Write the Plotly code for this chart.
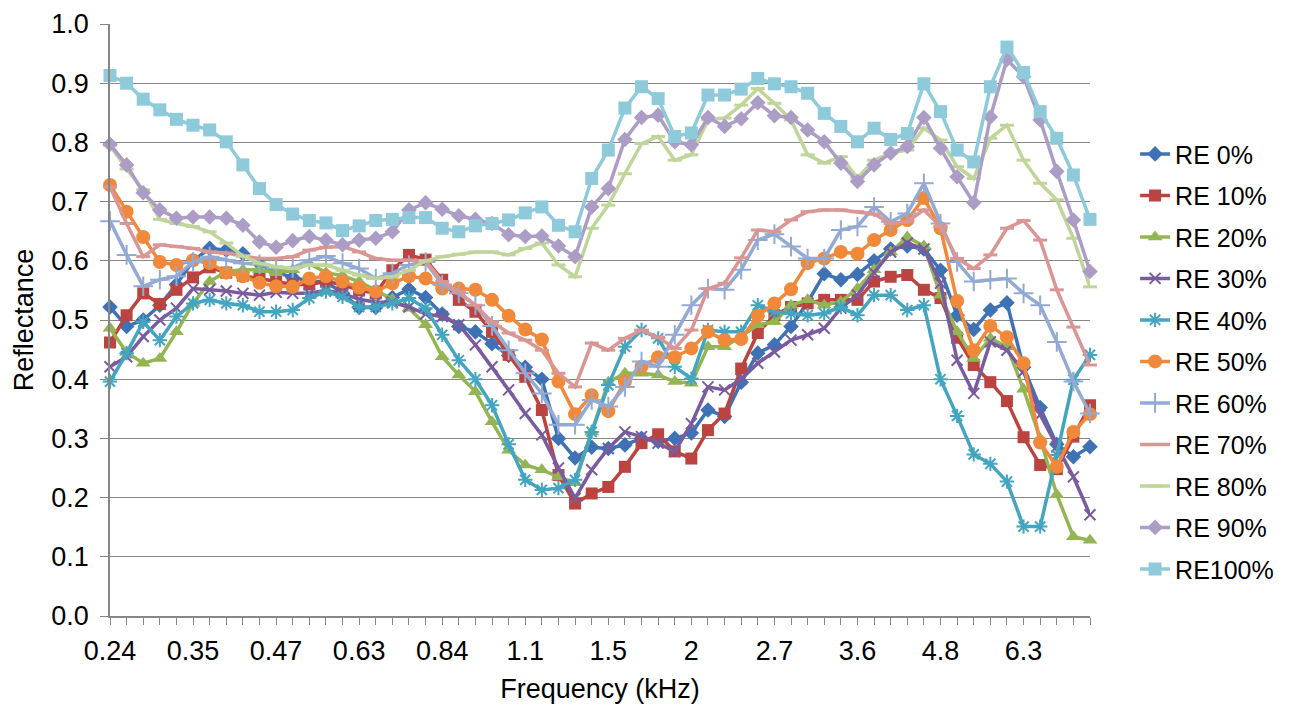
import plotly.graph_objects as go

freq_khz = ["0.24","0.28","0.30","0.31","0.33","0.35","0.37","0.39","0.42","0.44",
            "0.47","0.50","0.53","0.56","0.59","0.63","0.66","0.70","0.74","0.79",
            "0.84","0.88","0.94","0.99","1.05","1.1","1.18","1.25","1.32","1.40",
            "1.5","1.57","1.67","1.77","1.87","2","2.10","2.23","2.36","2.50",
            "2.7","2.81","2.97","3.15","3.34","3.6","3.74","3.97","4.20","4.45",
            "4.8","5.00","5.29","5.61","5.94","6.3","6.67","7.07","7.49","7.93"]
label_every = 5

re_0 = [0.522,0.489,0.500,0.525,0.560,0.600,0.621,0.618,0.612,0.595,
        0.580,0.572,0.565,0.565,0.545,0.521,0.521,0.538,0.552,0.538,
        0.510,0.489,0.480,0.460,0.440,0.420,0.400,0.300,0.267,0.285,
        0.283,0.289,0.300,0.295,0.300,0.309,0.348,0.337,0.395,0.444,
        0.458,0.489,0.530,0.578,0.568,0.577,0.600,0.620,0.625,0.620,
        0.584,0.508,0.484,0.517,0.529,0.420,0.352,0.290,0.269,0.286]
re_10 = [0.462,0.508,0.545,0.527,0.551,0.572,0.589,0.580,0.575,0.570,
         0.565,0.560,0.560,0.565,0.560,0.550,0.545,0.584,0.610,0.602,
         0.568,0.534,0.514,0.480,0.441,0.404,0.348,0.238,0.190,0.207,
         0.218,0.252,0.292,0.307,0.278,0.266,0.314,0.342,0.418,0.478,
         0.508,0.522,0.528,0.534,0.534,0.534,0.565,0.573,0.576,0.551,
         0.537,0.470,0.424,0.395,0.363,0.302,0.255,0.248,0.303,0.356]
re_20 = [0.486,0.445,0.427,0.435,0.480,0.528,0.565,0.582,0.585,0.585,
         0.580,0.585,0.595,0.580,0.575,0.565,0.550,0.535,0.520,0.492,
         0.438,0.407,0.379,0.328,0.280,0.255,0.247,0.235,0.225,0.311,
         0.395,0.410,0.410,0.407,0.396,0.393,0.455,0.455,0.472,0.492,
         0.497,0.525,0.534,0.525,0.531,0.553,0.585,0.615,0.640,0.625,
         0.542,0.480,0.435,0.469,0.455,0.383,0.300,0.205,0.134,0.128]
re_30 = [0.421,0.438,0.472,0.500,0.520,0.553,0.551,0.549,0.545,0.542,
         0.547,0.545,0.545,0.550,0.545,0.535,0.530,0.530,0.522,0.510,
         0.506,0.492,0.458,0.421,0.382,0.342,0.306,0.250,0.199,0.247,
         0.283,0.311,0.303,0.292,0.278,0.325,0.387,0.382,0.400,0.427,
         0.446,0.466,0.475,0.486,0.520,0.542,0.580,0.615,0.630,0.620,
         0.562,0.432,0.376,0.463,0.449,0.413,0.340,0.286,0.235,0.171]
re_40 = [0.396,0.444,0.497,0.466,0.506,0.528,0.534,0.528,0.525,0.514,
         0.514,0.517,0.537,0.548,0.539,0.522,0.522,0.528,0.537,0.520,
         0.475,0.432,0.400,0.356,0.290,0.230,0.213,0.216,0.230,0.311,
         0.390,0.455,0.483,0.469,0.421,0.401,0.483,0.480,0.480,0.525,
         0.514,0.511,0.508,0.511,0.522,0.508,0.542,0.542,0.517,0.525,
         0.400,0.338,0.273,0.257,0.227,0.151,0.151,0.272,0.399,0.441]
re_50 = [0.728,0.683,0.640,0.598,0.593,0.601,0.596,0.580,0.574,0.563,
         0.557,0.556,0.570,0.574,0.565,0.555,0.548,0.562,0.574,0.570,
         0.553,0.553,0.551,0.534,0.507,0.484,0.467,0.396,0.341,0.373,
         0.346,0.396,0.421,0.437,0.437,0.452,0.480,0.466,0.468,0.507,
         0.528,0.552,0.596,0.604,0.615,0.612,0.635,0.652,0.669,0.706,
         0.655,0.532,0.449,0.490,0.471,0.427,0.293,0.252,0.311,0.341]
re_60 = [0.667,0.610,0.557,0.568,0.574,0.598,0.607,0.601,0.596,0.594,
         0.587,0.588,0.601,0.608,0.596,0.587,0.570,0.579,0.593,0.598,
         0.560,0.545,0.525,0.490,0.449,0.410,0.376,0.323,0.323,0.365,
         0.354,0.387,0.430,0.421,0.475,0.525,0.553,0.551,0.585,0.635,
         0.645,0.624,0.604,0.604,0.652,0.658,0.691,0.666,0.680,0.731,
         0.663,0.598,0.565,0.568,0.570,0.545,0.525,0.463,0.396,0.342]
re_70 = [0.725,0.663,0.607,0.627,0.624,0.621,0.615,0.613,0.608,0.604,
         0.604,0.607,0.618,0.623,0.624,0.615,0.604,0.601,0.601,0.600,
         0.565,0.548,0.525,0.497,0.478,0.466,0.449,0.410,0.387,0.461,
         0.449,0.469,0.483,0.471,0.452,0.483,0.553,0.562,0.605,0.652,
         0.649,0.669,0.683,0.686,0.686,0.683,0.679,0.663,0.666,0.686,
         0.658,0.604,0.587,0.610,0.655,0.668,0.635,0.551,0.488,0.424]
re_80 = [0.795,0.755,0.720,0.670,0.663,0.658,0.649,0.630,0.608,0.596,
         0.590,0.587,0.593,0.593,0.584,0.576,0.570,0.573,0.584,0.600,
         0.607,0.611,0.615,0.615,0.610,0.621,0.630,0.593,0.573,0.655,
         0.694,0.747,0.798,0.810,0.770,0.779,0.838,0.841,0.863,0.891,
         0.866,0.838,0.779,0.765,0.776,0.740,0.770,0.782,0.787,0.824,
         0.804,0.759,0.739,0.807,0.829,0.770,0.731,0.703,0.638,0.556]
re_90 = [0.797,0.762,0.715,0.686,0.672,0.674,0.674,0.672,0.660,0.632,
         0.623,0.634,0.641,0.635,0.627,0.635,0.638,0.649,0.686,0.698,
         0.687,0.676,0.670,0.663,0.644,0.641,0.642,0.625,0.607,0.691,
         0.722,0.805,0.842,0.846,0.801,0.796,0.842,0.827,0.840,0.867,
         0.845,0.842,0.821,0.801,0.765,0.734,0.762,0.782,0.793,0.842,
         0.790,0.742,0.698,0.843,0.940,0.911,0.838,0.751,0.669,0.582]
re_100 = [0.913,0.900,0.873,0.855,0.839,0.829,0.821,0.801,0.762,0.722,
          0.695,0.679,0.668,0.664,0.651,0.659,0.668,0.670,0.673,0.673,
          0.655,0.649,0.659,0.663,0.669,0.681,0.691,0.660,0.649,0.739,
          0.787,0.858,0.894,0.874,0.810,0.816,0.880,0.880,0.890,0.908,
          0.899,0.894,0.883,0.849,0.827,0.801,0.824,0.805,0.815,0.899,
          0.852,0.787,0.767,0.894,0.961,0.918,0.852,0.807,0.745,0.670]

series_names = ["RE 0%", "RE 10%", "RE 20%", "RE 30%", "RE 40%", "RE 50%",
                "RE 60%", "RE 70%", "RE 80%", "RE 90%", "RE100%"]
series_values = [re_0, re_10, re_20, re_30, re_40, re_50,
                 re_60, re_70, re_80, re_90, re_100]

colors = ["#3F72B5", "#BB4340", "#94B553", "#7A5C9E", "#44A5C0", "#F0893A",
          "#92AAD4", "#D99694", "#C0D59A", "#AC9DC6", "#8FCADB"]
# (symbol, size, outline width) ; outline width > 0 for line-type symbols
markers = [("diamond", 12, 0), ("square", 12, 0), ("triangle-up", 13, 0),
           ("x-thin", 11, 2), ("asterisk", 12, 2), ("circle", 14, 0),
           ("cross-thin", 14, 2), ("line-ew", 10, 3), ("line-ew", 10, 3),
           ("diamond", 12, 0), ("square", 13, 0)]

x_pos = list(range(len(freq_khz)))
tick_text = [lab if i % label_every == 0 else "" for i, lab in enumerate(freq_khz)]

FONT = "Arial, Liberation Sans, sans-serif"
GRID = "#878787"

fig = go.Figure()
for name, vals, col, (sym, size, lw) in zip(series_names, series_values, colors, markers):
    fig.add_trace(go.Scatter(
        x=x_pos, y=vals, name=name, mode="lines+markers",
        legendgroup=name,
        line=dict(color=col, width=3.5),
        marker=dict(symbol=sym, size=size, color=col,
                    line=dict(color=col, width=lw)),
        cliponaxis=False,
    ))

fig.update_layout(
    width=1294, height=698,
    paper_bgcolor="white", plot_bgcolor="white",
    margin=dict(l=102, r=212, t=16, b=90),
    font=dict(family=FONT, size=25, color="#000000"),
    showlegend=True,
    legend=dict(x=1.046, y=0.819, xanchor="left", yanchor="top",
                font=dict(size=25, family=FONT), tracegroupgap=6,
                bgcolor="rgba(0,0,0,0)", traceorder="grouped"),
    xaxis=dict(
        range=[0, len(freq_khz) - 1], automargin=False,
        tickmode="array", tickvals=x_pos, ticktext=tick_text,
        ticks="outside", ticklen=7, tickcolor=GRID, tickwidth=1,
        ticklabelstandoff=3,
        showline=True, linecolor=GRID, linewidth=1.5,
        showgrid=False, zeroline=False,
        tickfont=dict(size=27, family=FONT, color="#000"),
        title=dict(text="Frequency (kHz)", font=dict(size=27, family=FONT), standoff=14),
    ),
    yaxis=dict(
        range=[0, 1.0], dtick=0.1, tick0=0, tickformat=".1f", automargin=False,
        ticks="outside", ticklen=8, tickcolor=GRID, ticklabelstandoff=6,
        showline=True, linecolor=GRID, linewidth=1.5,
        showgrid=True, gridcolor=GRID, gridwidth=1, zeroline=False,
        tickfont=dict(size=27, family=FONT, color="#000"),
        title=dict(text="Reflectance", font=dict(size=27, family=FONT), standoff=10),
    ),
)

fig.write_html("out.html")
